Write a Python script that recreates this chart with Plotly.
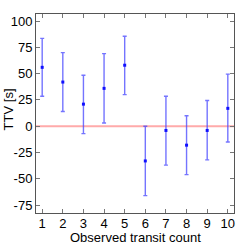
import plotly.graph_objects as go

transit = [1, 2, 3, 4, 5, 6, 7, 8, 9, 10]
ttv = [56, 42, 21, 36, 58, -33, -4, -18, -4, 17]
err_plus = [27.5, 28, 27.5, 33, 27.5, 33, 32.5, 28, 28.5, 32.5]
err_minus = [27.5, 28, 28, 33, 28, 33, 33, 28, 28, 32]

ytick_vals = [-75, -50, -25, 0, 25, 50, 75, 100]
ytick_text = ["-75", "-50", "-25", "0", "25", "50", "75", "100"]
xtick_vals = transit
xtick_text = [str(v) for v in transit]

fig = go.Figure()
fig.add_trace(go.Scatter(
    x=transit, y=ttv, mode="markers",
    marker=dict(symbol="square", size=3, color="#1010ff"),
    error_y=dict(type="data", symmetric=False, array=err_plus, arrayminus=err_minus,
                 color="rgba(70,70,255,0.75)", thickness=1.4, width=2),
    showlegend=False,
))

fig.add_shape(type="line", xref="paper", x0=0, x1=1, yref="y", y0=0, y1=0,
              line=dict(color="#ffaaaa", width=2), layer="below")

axis_common = dict(
    showline=True, linecolor="#555555", linewidth=1, mirror="ticks",
    ticks="inside", ticklen=4, tickcolor="#777777", showgrid=False, zeroline=False,
    tickfont=dict(size=13, color="black"), automargin=False,
)

fig.update_layout(
    width=249, height=249,
    margin=dict(l=36, r=15, t=14, b=36),
    paper_bgcolor="white", plot_bgcolor="white",
    font=dict(family="Liberation Sans, Arial, sans-serif", size=13, color="black"),
    xaxis=dict(range=[0.7, 10.3], tickvals=xtick_vals, ticktext=xtick_text,
               ticklabelstandoff=-2, **axis_common),
    yaxis=dict(range=[-82.5, 106.7], tickvals=ytick_vals, ticktext=ytick_text,
               **axis_common),
    annotations=[
        dict(text="Observed transit count", xref="paper", yref="paper",
             x=0.5, y=-0.122, xanchor="center", yanchor="middle",
             showarrow=False, font=dict(size=13)),
        dict(text="TTV [s]", xref="paper", yref="paper", textangle=-90,
             x=-0.137, y=0.52, xanchor="center", yanchor="middle",
             showarrow=False, font=dict(size=13)),
    ],
)

fig.write_html("out.html", config={"displayModeBar": False},
               post_script="document.body.style.margin='0';document.body.style.padding='0';")
